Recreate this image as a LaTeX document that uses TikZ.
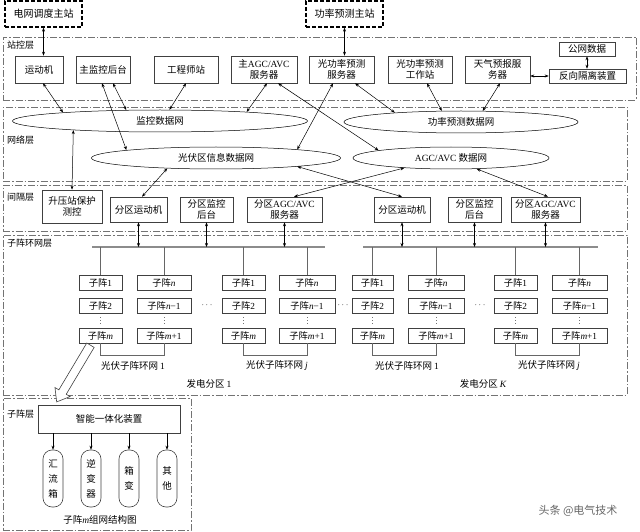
\documentclass[tikz,border=0pt]{standalone}
\usepackage{fontspec}
\setmainfont{Liberation Serif}
\newfontfamily\cjk{Noto Sans CJK SC}
\usetikzlibrary{arrows.meta,shapes.geometric,shapes.arrows,calc}
\newcommand\en[1]{{\rmfamily #1}}
\newcommand\mi[1]{{\rmfamily\itshape #1}}
% #1 style, #2 name, #3 x1, #4 y1, #5 x2, #6 y2, #7 text
\newcommand\boxat[7]{\node[#1,minimum width={(#5-#3)*1pt},minimum height={(#6-#4)*1pt}] (#2) at ({(#3+#5)/2},{(#4+#6)/2}) {#7};}
\begin{document}
\begin{tikzpicture}[x=1pt,y=-1pt,
  font=\cjk\fontsize{9.5}{11}\selectfont,
  box/.style={draw=black!75,line width=0.6pt,inner sep=0pt,align=center},
  master/.style={draw=black,line width=1.3pt,dash pattern=on 4pt off 2pt,inner sep=0pt,font=\cjk\fontsize{10}{11}\selectfont},
  layer/.style={draw=black!55,line width=0.7pt,dash pattern=on 7pt off 2pt on 1.5pt off 2pt,inner sep=0pt},
  net/.style={ellipse,draw=black,line width=0.5pt,inner sep=0pt,minimum height=22pt},
  link/.style={{Stealth[length=4pt,width=3pt]}-{Stealth[length=4pt,width=3pt]},line width=0.5pt},
  onearrow/.style={-{Stealth[length=4pt,width=3pt]},line width=0.5pt},
  bus/.style={draw=black!45,line width=1.3pt},
  drop/.style={draw=black!60,line width=0.6pt},
  vdot/.style={draw=black!55,line width=0.8pt,dash pattern=on 0.8pt off 2pt},
  sub/.style={box,font=\cjk\fontsize{9.3}{10}\selectfont},
  lbl/.style={anchor=west,inner sep=0pt,font=\cjk\fontsize{9}{10}\selectfont},
  capsule/.style={draw=black!75,line width=0.6pt,rounded corners=9pt,minimum width=20pt,minimum height=57pt,inner sep=0pt,align=center,font=\cjk\fontsize{9.5}{15}\selectfont}
]
\useasboundingbox (0,0) rectangle (640,532);

% ---------- layers ----------
\boxat{layer}{L1}{3}{37}{636}{100}{}
\boxat{layer}{L2}{3}{107}{627}{181}{}
\boxat{layer}{L3}{3}{185}{627}{231}{}
\boxat{layer}{L4}{3}{235}{627}{395}{}
\boxat{layer}{L5}{3}{398}{191}{530}{}
\node[lbl] (t1) at (7,45) {站控层};
\node[lbl] (t2) at (7,140) {网络层};
\node[lbl] (t3) at (7,197) {间隔层};
\node[lbl] (t4) at (7,243) {子阵环网层};
\node[lbl] (t5) at (7,414) {子阵层};

% ---------- master stations ----------
\boxat{master}{top1}{5}{1}{82}{27}{电网调度主站}
\boxat{master}{top2}{306}{1}{383}{27}{功率预测主站}

% ---------- station layer ----------
\boxat{box}{s1}{15}{56}{63}{83}{运动机}
\boxat{box}{s2}{76}{56}{130}{83}{主监控后台}
\boxat{box}{s3}{154}{56}{218}{83}{工程师站}
\boxat{box}{s4}{231}{56}{297}{83}{主\en{AGC/AVC}\\服务器}
\boxat{box}{s5}{309}{56}{374}{83}{光功率预测\\服务器}
\boxat{box}{s6}{388}{56}{452}{83}{光功率预测\\工作站}
\boxat{box}{s7}{465}{56}{530}{83}{天气预报服\\务器}
\boxat{box}{s8}{559}{42}{615}{56}{公网数据}
\boxat{box}{s9}{549}{69}{626}{83}{反向隔离装置}

\draw[link] (top1.south) -- (top1.south |- s1.north);
\draw[link] (top2.south) -- (top2.south |- s5.north);
\draw[link] (s7.east |- s9.west) -- (s9.west);
\draw[link] (s8.south) -- (s8.south |- s9.north);

% ---------- network layer ----------
\node[net,minimum width=295pt] (e1) at (160,121) {监控数据网};
\node[net,minimum width=234pt] (e2) at (461,122) {功率预测数据网};
\node[net,minimum width=249pt] (e3) at (216,158) {光伏区信息数据网};
\node[net,minimum width=196pt] (e4) at (451,158) {\en{AGC/AVC} 数据网};

\draw[link] ([xshift=4pt]s1.south) -- (e1.175.8);
\draw[link] ([xshift=-1pt]s2.south) -- (e3.175.5);
\draw[link] ([xshift=10pt]s2.south) -- (e1.162.5);
\draw[link] (s3.south) -- (e1.50.7);
\draw[link] ([xshift=3pt]s4.south) -- (e1.6.25);
\draw[link] ([xshift=14pt]s4.south) -- (e4.174.4);
\draw[link] ([xshift=-8.5pt]s5.south) -- (e3.6.4);
\draw[link] ([xshift=13.5pt]s5.south) -- (e2.172.5);
\draw[link] ([xshift=7pt]s6.south) -- (e2.150.2);
\draw[link] ([xshift=2.5pt]s7.south) -- (e2.27.3);

% ---------- interval layer ----------
\boxat{box}{i0}{42}{190}{102}{223}{升压站保护\\测控}
\boxat{box}{i1}{110}{197}{167}{222}{分区运动机}
\boxat{box}{i2}{180}{197}{233}{222}{分区监控\\后台}
\boxat{box}{i3}{247}{197}{322}{222}{分区\en{AGC/AVC}\\服务器}
\boxat{box}{i4}{374}{197}{430}{222}{分区运动机}
\boxat{box}{i5}{448}{197}{501}{222}{分区监控\\后台}
\boxat{box}{i6}{511}{197}{580}{222}{分区\en{AGC/AVC}\\服务器}

\draw[link] (e1.186.6) -- (i0.north);
\draw[link] (e3.192.5) -- ([xshift=3.5pt]i1.north);
\draw[link] (e4.192.2) -- ([xshift=9.5pt]i3.north);
\draw[link] (e3.354.2) -- (i4.north);
\draw[link] (e4.337.8) -- ([xshift=2.5pt]i6.north);

% ---------- ring layer ----------
\coordinate (bus1w) at (92,247);
\coordinate (bus1e) at (325,247);
\coordinate (bus2w) at (363,247);
\coordinate (bus2e) at (598,247);
\draw[bus] (bus1w) -- (bus1e);
\draw[bus] (bus2w) -- (bus2e);
\foreach \bx in {i1,i2,i3} \draw[link] (\bx.south) -- (\bx.south |- bus1w);
\foreach \bx in {i4,i5,i6} \draw[link] (\bx.south) -- (\bx.south |- bus2w);

\newcommand\subcol[6]{%
  \boxat{sub}{#1a}{#2}{275}{#3}{290}{#4}
  \boxat{sub}{#1b}{#2}{298}{#3}{313}{#5}
  \boxat{sub}{#1c}{#2}{328}{#3}{343}{#6}
  \draw[vdot] ($(#1b.south)+(0,4)$) -- ($(#1c.north)+(0,-3)$);
}
\subcol{pa}{79}{122}{子阵\en{1}}{子阵\en{2}}{子阵\mi{m}}
\subcol{pb}{137}{191}{子阵\mi{n}}{子阵\mi{n}\en{−1}}{子阵\mi{m}\en{+1}}
\subcol{qa}{222}{265}{子阵\en{1}}{子阵\en{2}}{子阵\mi{m}}
\subcol{qb}{279}{335}{子阵\mi{n}}{子阵\mi{n}\en{−1}}{子阵\mi{m}\en{+1}}
\subcol{ra}{352}{393}{子阵\en{1}}{子阵\en{2}}{子阵\mi{m}}
\subcol{rb}{408}{464}{子阵\mi{n}}{子阵\mi{n}\en{−1}}{子阵\mi{m}\en{+1}}
\subcol{ta}{494}{537}{子阵\en{1}}{子阵\en{2}}{子阵\mi{m}}
\subcol{tb}{552}{607}{子阵\mi{n}}{子阵\mi{n}\en{−1}}{子阵\mi{m}\en{+1}}

\foreach \cl in {pa,pb,qa,qb} \draw[drop] (\cl a.north |- bus1w) -- (\cl a.north);
\foreach \cl in {ra,rb,ta,tb} \draw[drop] (\cl a.north |- bus2w) -- (\cl a.north);
\draw[drop] (pac.south) -- ++(0,12) -| (pbc.south);
\draw[drop] (qac.south) -- ++(0,12) -| (qbc.south);
\draw[drop] (rac.south) -- ++(0,12) -| (rbc.south);
\draw[drop] (tac.south) -- ++(0,12) -| (tbc.south);

\node[inner sep=1pt] (dots1) at (207,305) {\en{$\cdots$}};
\node[inner sep=1pt] (dots2) at (343,305) {\en{$\cdots$}};
\node[inner sep=1pt] (dots3) at (480,305) {\en{$\cdots$}};

\node (ring1) at (133,366) {光伏子阵环网 \en{1}};
\node (ring2) at (277,366) {光伏子阵环网 \mi{j}};
\node (ring3) at (407,366) {光伏子阵环网 \en{1}};
\node (ring4) at (549,366) {光伏子阵环网 \mi{j}};
\node (zone1) at (209,384) {发电分区 \en{1}};
\node (zone2) at (483,384) {发电分区 \mi{K}};

% hollow arrow to sub-array layer
\coordinate (hstart) at ([xshift=-8.5pt]pac.south);
\coordinate (htip) at (58,399);
\node[single arrow,draw=black!75,fill=white,line width=0.6pt,minimum height=66pt,minimum width=17pt,
      inner sep=4pt,single arrow head extend=4.5pt,single arrow tip angle=75,rotate=239.2]
      (hollow) at ($(hstart)!.5!(htip)$) {};

% ---------- sub-array layer ----------
\boxat{box}{z}{38}{405}{180}{433}{智能一体化装置}
\node[capsule] (c1) at (53,478.5) {汇\\流\\箱};
\node[capsule] (c2) at (91,478.5) {逆\\变\\器};
\node[capsule] (c3) at (129,478.5) {箱\\变};
\node[capsule] (c4) at (167,478.5) {其\\他};
\foreach \cc in {c1,c2,c3,c4} \draw[onearrow] (z.south -| \cc.north) -- (\cc.north);
\node (caption) at (100,520) {子阵\mi{m}组网结构图};

\node[text=black!60,font=\cjk\fontsize{11}{12}\selectfont] (wm) at (578,511) {头条 @电气技术};
\end{tikzpicture}
\end{document}
